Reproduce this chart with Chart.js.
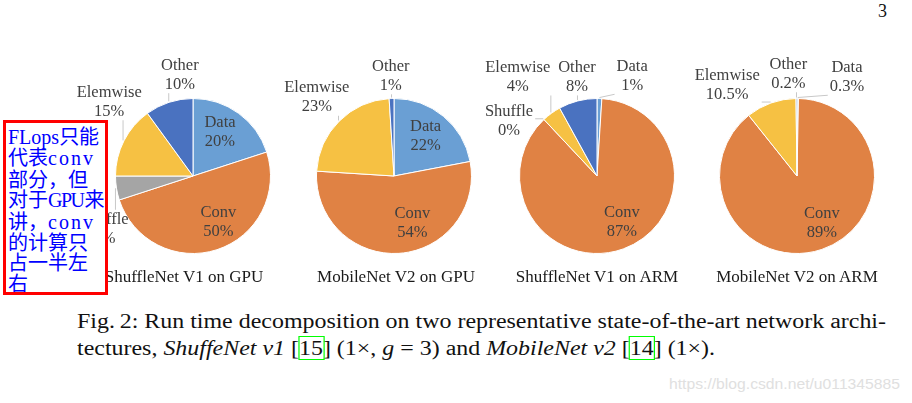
<!DOCTYPE html>
<html>
<head>
<meta charset="utf-8">
<script src="https://cdn.jsdelivr.net/npm/chart.js@4.4.1/dist/chart.umd.min.js"></script>
<style>
  body { margin: 0; width: 912px; height: 403px; overflow: hidden; background: #fff; position: relative; font-family: "Liberation Serif", serif; }
  .pie { position: absolute; top: 39px; width: 240px; height: 260px; }
  .title { position: absolute; top: 267px; width: 240px; text-align: center; font-size: 17px; line-height: 19px; color: #1a1a1a; }
  #note { position: absolute; left: 3px; top: 120px; width: 97px; height: 166px; border: 3px solid #ff0000; background: #fff; z-index: 5;
          color: #0000ff; font: 20px/20.4px "Noto Sans CJK SC", sans-serif; padding: 3px 0 0 2px; white-space: pre; overflow: hidden; }
  #note .lat { font-family: "Liberation Serif", serif; }
  #note .wide { letter-spacing: 2px; }
  #note .tight { letter-spacing: -1.5px; margin-right: 1px; }
  .cap { position: absolute; left: 77px; font-size: 20px; line-height: 22px; color: #111; white-space: nowrap; transform-origin: 0 0; }
  .ref { outline: 1px solid #00ff00; outline-offset: 0px; }
  #page { position: absolute; left: 878px; top: 1px; font-size: 18px; color: #111; }
  #mark { position: absolute; left: 669px; top: 376px; font: 14px "Liberation Sans", Arial, sans-serif; color: #e0e0e0; white-space: nowrap; transform-origin: 0 0; }
</style>
</head>
<body>
<div id="page">3</div>

<canvas id="pie0" class="pie" width="240" height="260"></canvas>
<canvas id="pie1" class="pie" width="240" height="260"></canvas>
<canvas id="pie2" class="pie" width="240" height="260"></canvas>
<canvas id="pie3" class="pie" width="240" height="260"></canvas>

<div id="note"><span class="lat">FLops</span>只能
代表<span class="lat wide">conv</span>
部分，但
对于<span class="lat tight">GPU</span>来
讲，<span class="lat wide">conv</span>
的计算只
占一半左
右</div>

<div class="cap" id="cap1" style="top:310px">Fig.&thinsp;2: Run time decomposition on two representative state-of-the-art network archi-</div>
<div class="cap" id="cap2" style="top:337px">tectures, <i>ShuffeNet v1</i> [<span class="ref">15</span>] (1×, <i>g</i> = 3) and <i>MobileNet v2</i> [<span class="ref">14</span>] (1×).</div>
<div id="mark">https://blog.csdn.net/u011345885</div>

<script>
// slice order: clockwise from 12 o'clock
const categories = ['Data', 'Conv', 'Shuffle', 'Elemwise', 'Other'];

// percentages (null = op not present in the net)
const shuffleV1Gpu = [20, 50, 5, 15, 10];
const mobileV2Gpu = [22, 54, null, 23, 1];
const shuffleV1Arm = [1, 87, 0, 4, 8];
const mobileV2Arm = [0.3, 89, null, 10.5, 0.2];

const chartTitles = ['ShuffleNet V1 on GPU', 'MobileNet V2 on GPU', 'ShuffleNet V1 on ARM', 'MobileNet V2 on ARM'];
const allSeries = [shuffleV1Gpu, mobileV2Gpu, shuffleV1Arm, mobileV2Arm];

const sliceColors = ['#6a9fd4', '#e08244', '#a5a5a5', '#f6c143', '#4a72c0'];
const pieCentersX = [193, 394, 597, 797];
const titleCentersX = [184, 396, 597, 797];

// small hand nudges (px) for label placement, like Excel's best-fit
const labelNudge = [
  [[-4, -2], [9, -4], [11, 37], [6, -29], [18, -6]],
  [[-2, 0], [15, -6], [0, 0], [-6, -8], [0, 0]],
  [[32, 0], [7, -4], [-19, 18], [-20, -18], [5, -2]],
  [[49, 1], [8, -3], [0, 0], [-36, 4], [-8, -2]]
];

const labelFont = '16.5px "Liberation Serif", serif';

const pieLabels = {
  id: 'pieLabels',
  afterDatasetsDraw(chart, args, opts) {
    const c = chart.ctx;
    const ds = chart.data.datasets[0];
    const arcs = chart.getDatasetMeta(0).data;
    c.save();
    c.font = labelFont;
    c.textAlign = 'center';
    c.textBaseline = 'middle';
    arcs.forEach((arc, i) => {
      const v = ds.data[i];
      if (v === null || v === undefined) return;
      const p = arc.getProps(['x', 'y', 'startAngle', 'endAngle', 'outerRadius'], true);
      const mid = (p.startAngle + p.endAngle) / 2;
      const inside = (i < 2 && v >= 15);
      const k = inside ? 0.68 : 1.3;
      const nudge = opts.nudge[i];
      const lx = p.x + Math.cos(mid) * p.outerRadius * k + nudge[0];
      const ly = p.y + Math.sin(mid) * p.outerRadius * k + nudge[1];
      const l1 = chart.data.labels[i];
      const l2 = v + '%';
      if (!inside) {
        // leader line from slice edge to the label box
        const ex = p.x + Math.cos(mid) * (p.outerRadius + 1);
        const ey = p.y + Math.sin(mid) * (p.outerRadius + 1);
        const w = Math.max(c.measureText(l1).width, c.measureText(l2).width) / 2 + 2;
        const bx = Math.min(Math.max(ex, lx - w), lx + w);
        const by = Math.min(Math.max(ey, ly - 19), ly + 19);
        if (Math.hypot(bx - ex, by - ey) > 3) {
          c.strokeStyle = '#c8c8c8';
          c.lineWidth = 1;
          c.beginPath();
          c.moveTo(bx, by);
          c.lineTo(ex, ey);
          c.stroke();
        }
      }
      c.fillStyle = '#404040';
      c.fillText(l1, lx, ly - 9);
      c.fillText(l2, lx, ly + 10);
    });
    c.restore();
  }
};

allSeries.forEach((series, n) => {
  const el = document.getElementById('pie' + n);
  el.style.left = (pieCentersX[n] - 120) + 'px';

  new Chart(el, {
    type: 'pie',
    data: {
      labels: categories,
      datasets: [{
        data: series,
        backgroundColor: sliceColors,
        borderColor: '#ffffff',
        borderWidth: 1
      }]
    },
    options: {
      responsive: false,
      animation: false,
      devicePixelRatio: 1,
      layout: { padding: { left: 42, right: 42, top: 59, bottom: 45 } },
      plugins: {
        legend: { display: false },
        tooltip: { enabled: false },
        pieLabels: { nudge: labelNudge[n] }
      }
    },
    plugins: [pieLabels]
  });

  const t = document.createElement('div');
  t.className = 'title';
  t.textContent = chartTitles[n];
  t.style.left = (titleCentersX[n] - 120) + 'px';
  document.body.appendChild(t);
});

// stretch the caption to the justified width of the first line
const cap1 = document.getElementById('cap1');
const sx = 809 / cap1.getBoundingClientRect().width;
cap1.style.transform = 'scaleX(' + sx + ')';
document.getElementById('cap2').style.transform = 'scaleX(' + sx + ')';
const mark = document.getElementById('mark');
mark.style.transform = 'scaleX(' + (231 / mark.getBoundingClientRect().width) + ')';
</script>
</body>
</html>
